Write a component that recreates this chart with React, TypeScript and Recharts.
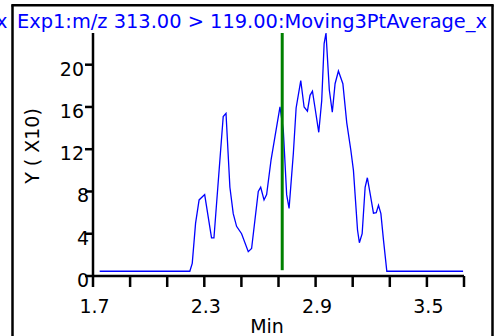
import React from 'react';
import { LineChart, Line, XAxis, YAxis, ReferenceLine } from 'recharts';

const titleText = 'Exp1:m/z 313.00 > 119.00:Moving3PtAverage_x';
const xAxisTitle = 'Min';
const yAxisTitle = 'Y ( X10)';

const times = [1.736, 2.222, 2.235, 2.253, 2.272, 2.302, 2.339, 2.352, 2.402, 2.417, 2.438, 2.456, 2.474, 2.501, 2.537, 2.555, 2.591, 2.604, 2.622, 2.636, 2.660, 2.681, 2.708, 2.726, 2.744, 2.757, 2.780, 2.795, 2.820, 2.838, 2.856, 2.870, 2.883, 2.897, 2.917, 2.933, 2.946, 2.956, 2.974, 2.990, 3.005, 3.023, 3.047, 3.068, 3.090, 3.104, 3.126, 3.136, 3.151, 3.167, 3.179, 3.194, 3.212, 3.227, 3.239, 3.252, 3.266, 3.284, 3.695];
const values = [0.45, 0.45, 1.2, 5.0, 7.2, 7.7, 3.6, 3.6, 15.1, 15.4, 8.4, 5.9, 4.7, 4.0, 2.3, 2.6, 8.0, 8.4, 7.2, 7.7, 11.0, 13.2, 16.0, 13.8, 7.7, 6.4, 11.6, 15.9, 18.5, 16.0, 15.6, 17.1, 17.5, 15.9, 13.6, 16.6, 22.0, 23.0, 17.6, 15.5, 18.2, 19.4, 18.2, 14.5, 11.9, 10.0, 4.35, 3.15, 4.0, 8.4, 9.3, 7.8, 5.95, 6.0, 6.7, 5.9, 3.4, 0.45, 0.45];

const xTicks = [1.7, 1.9, 2.1, 2.3, 2.5, 2.7, 2.9, 3.1, 3.3, 3.5, 3.7];
const xTickLabels = ['1.7', '2.3', '2.9', '3.5'];
const yTicks = [0, 4, 8, 12, 16, 20];

const markerTime = 2.72;
const markerRange = [0.55, 23];

const data = times.map((t, i) => ({ t, v: values[i] }));

const FONT = '"DejaVu Sans", Verdana, sans-serif';
const FS = 19;

const XTick = (props: any) => {
  const { x, payload } = props;
  const lbl = Number(payload.value).toFixed(1);
  if (!xTickLabels.includes(lbl)) return null;
  return (
    <text x={x + 1.5} y={312.5} textAnchor="middle" fontFamily={FONT} fontSize={FS} fill="#000">
      {lbl}
    </text>
  );
};

const YTick = (props: any) => {
  const { y, payload } = props;
  const s = String(payload.value);
  const xr = s.length > 1 ? 84 : 89;
  return (
    <text x={xr} y={y + 11} textAnchor="end" fontFamily={FONT} fontSize={FS} fill="#000">
      {s}
    </text>
  );
};

export default function App() {
  return (
    <div style={{ position: 'absolute', left: 0, top: 0, width: 501, height: 336, background: '#fff', overflow: 'hidden' }}>
      <LineChart width={501} height={336} data={data} margin={{ top: 33, right: 37, left: 0, bottom: 0 }}>
        <XAxis
          dataKey="t"
          type="number"
          domain={[1.7, 3.7]}
          ticks={xTicks}
          interval={0}
          height={60}
          tickSize={11}
          tick={<XTick />}
          tickLine={{ stroke: '#000', strokeWidth: 2.5 }}
          axisLine={{ stroke: '#000', strokeWidth: 2.5 }}
          allowDataOverflow
        />
        <YAxis
          type="number"
          domain={[0, 23]}
          ticks={yTicks}
          interval={0}
          width={93}
          tickSize={8}
          tick={<YTick />}
          tickLine={{ stroke: '#000', strokeWidth: 2.5 }}
          axisLine={{ stroke: '#000', strokeWidth: 2.5 }}
        />
        <Line dataKey="v" type="linear" stroke="#0000ff" strokeWidth={1.3} dot={false} activeDot={false} isAnimationActive={false} />
        <ReferenceLine
          segment={[{ x: markerTime, y: markerRange[0] }, { x: markerTime, y: markerRange[1] }]}
          stroke="#008000"
          strokeWidth={3}
          ifOverflow="visible"
        />
      </LineChart>
      <svg width={501} height={336} style={{ position: 'absolute', left: 0, top: 0, pointerEvents: 'none' }}>
        <line x1={12.5} y1={340} x2={12.5} y2={5.3} stroke="#000" strokeWidth={2.5} />
        <line x1={11.3} y1={5.3} x2={493.7} y2={5.3} stroke="#000" strokeWidth={2.5} />
        <line x1={492.5} y1={5.3} x2={492.5} y2={340} stroke="#000" strokeWidth={2.5} />
        <text x={7.5} y={28.3} textAnchor="end" fontFamily={FONT} fontSize={19.4} fill="#0000ff">x</text>
        <text x={17} y={28.3} fontFamily={FONT} fontSize={19.4} fill="#0000ff">{titleText}</text>
        <text x={267} y={333} textAnchor="middle" fontFamily={FONT} fontSize={FS} fill="#000">{xAxisTitle}</text>
        <text x={39} y={146} textAnchor="middle" fontFamily={FONT} fontSize={FS} fill="#000" transform="rotate(-90 39 146)">{yAxisTitle}</text>
      </svg>
    </div>
  );
}
